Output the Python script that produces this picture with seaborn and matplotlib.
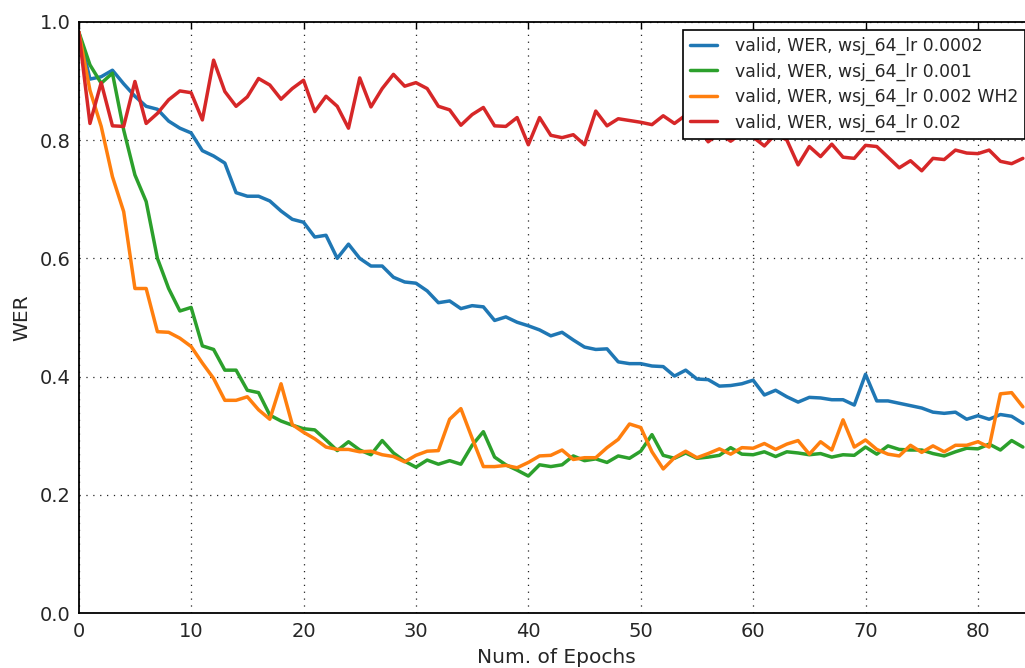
import numpy as np
import pandas as pd
import matplotlib
matplotlib.use("Agg")
import matplotlib.pyplot as plt
import seaborn as sns

epochs = list(range(85))

labels = [
    "valid, WER, wsj_64_lr 0.0002",
    "valid, WER, wsj_64_lr 0.001",
    "valid, WER, wsj_64_lr 0.002 WH2",
    "valid, WER, wsj_64_lr 0.02",
]
colors = ["#1f77b4", "#2ca02c", "#ff7f0e", "#d62728"]

wer_lr_0002 = [0.983, 0.903, 0.907, 0.918, 0.895, 0.874, 0.857, 0.852, 0.832, 0.820,
               0.812, 0.782, 0.773, 0.761, 0.711, 0.705, 0.705, 0.697, 0.680, 0.666,
               0.661, 0.636, 0.639, 0.600, 0.624, 0.600, 0.587, 0.587, 0.568, 0.560,
               0.558, 0.545, 0.525, 0.528, 0.515, 0.520, 0.518, 0.495, 0.501, 0.492,
               0.486, 0.479, 0.469, 0.475, 0.462, 0.450, 0.446, 0.447, 0.425, 0.422,
               0.422, 0.418, 0.417, 0.401, 0.411, 0.396, 0.395, 0.384, 0.385, 0.388,
               0.394, 0.369, 0.377, 0.366, 0.357, 0.365, 0.364, 0.361, 0.361, 0.352,
               0.404, 0.359, 0.359, 0.355, 0.351, 0.347, 0.340, 0.338, 0.340, 0.328,
               0.334, 0.328, 0.336, 0.333, 0.321]

wer_lr_001 = [0.983, 0.927, 0.896, 0.913, 0.817, 0.741, 0.696, 0.600, 0.549, 0.511,
              0.517, 0.452, 0.446, 0.411, 0.411, 0.377, 0.373, 0.335, 0.325, 0.318,
              0.312, 0.310, 0.293, 0.275, 0.290, 0.276, 0.268, 0.292, 0.271, 0.257,
              0.247, 0.259, 0.252, 0.258, 0.252, 0.284, 0.307, 0.264, 0.251, 0.242,
              0.232, 0.251, 0.248, 0.251, 0.266, 0.258, 0.261, 0.255, 0.266, 0.262,
              0.274, 0.302, 0.267, 0.262, 0.271, 0.262, 0.264, 0.267, 0.280, 0.269,
              0.268, 0.273, 0.265, 0.273, 0.271, 0.268, 0.270, 0.264, 0.268, 0.267,
              0.281, 0.269, 0.283, 0.277, 0.276, 0.276, 0.270, 0.266, 0.273, 0.279,
              0.278, 0.286, 0.276, 0.292, 0.281]

wer_lr_002_wh2 = [0.983, 0.884, 0.823, 0.738, 0.679, 0.549, 0.549, 0.476, 0.475, 0.465,
                  0.451, 0.423, 0.397, 0.360, 0.360, 0.366, 0.344, 0.328, 0.388, 0.319,
                  0.306, 0.295, 0.281, 0.277, 0.277, 0.273, 0.274, 0.268, 0.265, 0.256,
                  0.267, 0.274, 0.275, 0.328, 0.346, 0.296, 0.248, 0.248, 0.250, 0.246,
                  0.255, 0.266, 0.267, 0.276, 0.260, 0.263, 0.263, 0.280, 0.294, 0.320,
                  0.314, 0.273, 0.244, 0.263, 0.274, 0.263, 0.270, 0.278, 0.269, 0.280,
                  0.279, 0.287, 0.277, 0.286, 0.292, 0.269, 0.290, 0.276, 0.327, 0.281,
                  0.293, 0.277, 0.269, 0.266, 0.284, 0.272, 0.283, 0.273, 0.284, 0.284,
                  0.290, 0.281, 0.371, 0.373, 0.349]

wer_lr_02 = [0.983, 0.828, 0.897, 0.824, 0.823, 0.899, 0.828, 0.845, 0.868, 0.883,
             0.880, 0.834, 0.935, 0.882, 0.857, 0.873, 0.904, 0.893, 0.869, 0.887,
             0.901, 0.848, 0.874, 0.857, 0.820, 0.905, 0.856, 0.887, 0.911, 0.891,
             0.897, 0.887, 0.857, 0.851, 0.825, 0.843, 0.855, 0.824, 0.823, 0.838,
             0.792, 0.838, 0.808, 0.804, 0.809, 0.792, 0.849, 0.824, 0.836, 0.833,
             0.830, 0.826, 0.841, 0.828, 0.842, 0.830, 0.797, 0.812, 0.798, 0.812,
             0.805, 0.790, 0.810, 0.800, 0.758, 0.789, 0.772, 0.793, 0.771, 0.769,
             0.791, 0.789, 0.771, 0.753, 0.765, 0.748, 0.769, 0.767, 0.783, 0.778,
             0.777, 0.783, 0.764, 0.760, 0.769]

series = [wer_lr_0002, wer_lr_001, wer_lr_002_wh2, wer_lr_02]
frames = []
for lab, vals in zip(labels, series):
    n = len(vals)
    frames.append(pd.DataFrame({"epoch": epochs[:n], "WER": vals, "run": lab}))
df = pd.concat(frames, ignore_index=True)

sns.set_style("white")
plt.rcParams["font.family"] = ["DejaVu Sans"]
plt.rcParams["xtick.direction"] = "in"
plt.rcParams["ytick.direction"] = "in"

fig = plt.figure(figsize=(10.25, 6.68), dpi=100)
fig.patch.set_facecolor("white")
ax = fig.add_axes([0.0768, 0.0819, 0.9321, 0.8856])

sns.lineplot(data=df, x="epoch", y="WER", hue="run", hue_order=labels,
             palette=dict(zip(labels, colors)), linewidth=2.5, ax=ax,
             legend=True)

ax.set_xlim(0, 85)
ax.set_ylim(0, 1.0)
ax.set_xticks([0, 10, 20, 30, 40, 50, 60, 70, 80])
ax.set_yticks([0.0, 0.2, 0.4, 0.6, 0.8, 1.0])
ax.set_yticklabels(["0.0", "0.2", "0.4", "0.6", "0.8", "1.0"])
ax.grid(True, linestyle=(0, (1, 4.5)), color="#222222", linewidth=0.9)
ax.tick_params(axis="both", which="major", labelsize=14, length=5, width=1,
               direction="in", top=True, right=True, color="black", pad=6)
for s in ax.spines.values():
    s.set_color("black")
    s.set_linewidth(1.3)
    s.set_visible(True)

ax.set_xlabel("Num. of Epochs", fontsize=14.5, labelpad=5)
ax.set_ylabel("WER", fontsize=14.5, labelpad=6)

handles, labs = ax.get_legend_handles_labels()
leg = ax.legend(handles, labs, loc="upper left",
                bbox_to_anchor=(683 / 1025, 1 - 30 / 668),
                bbox_transform=fig.transFigure, fontsize=12.4,
                frameon=True, fancybox=False, framealpha=1.0,
                edgecolor="black", handlelength=1.6, handletextpad=1.0,
                borderpad=0.4, borderaxespad=0, labelspacing=0.42)
leg.get_frame().set_linewidth(1.2)

fig.savefig("out.png", dpi=100, facecolor="white")
